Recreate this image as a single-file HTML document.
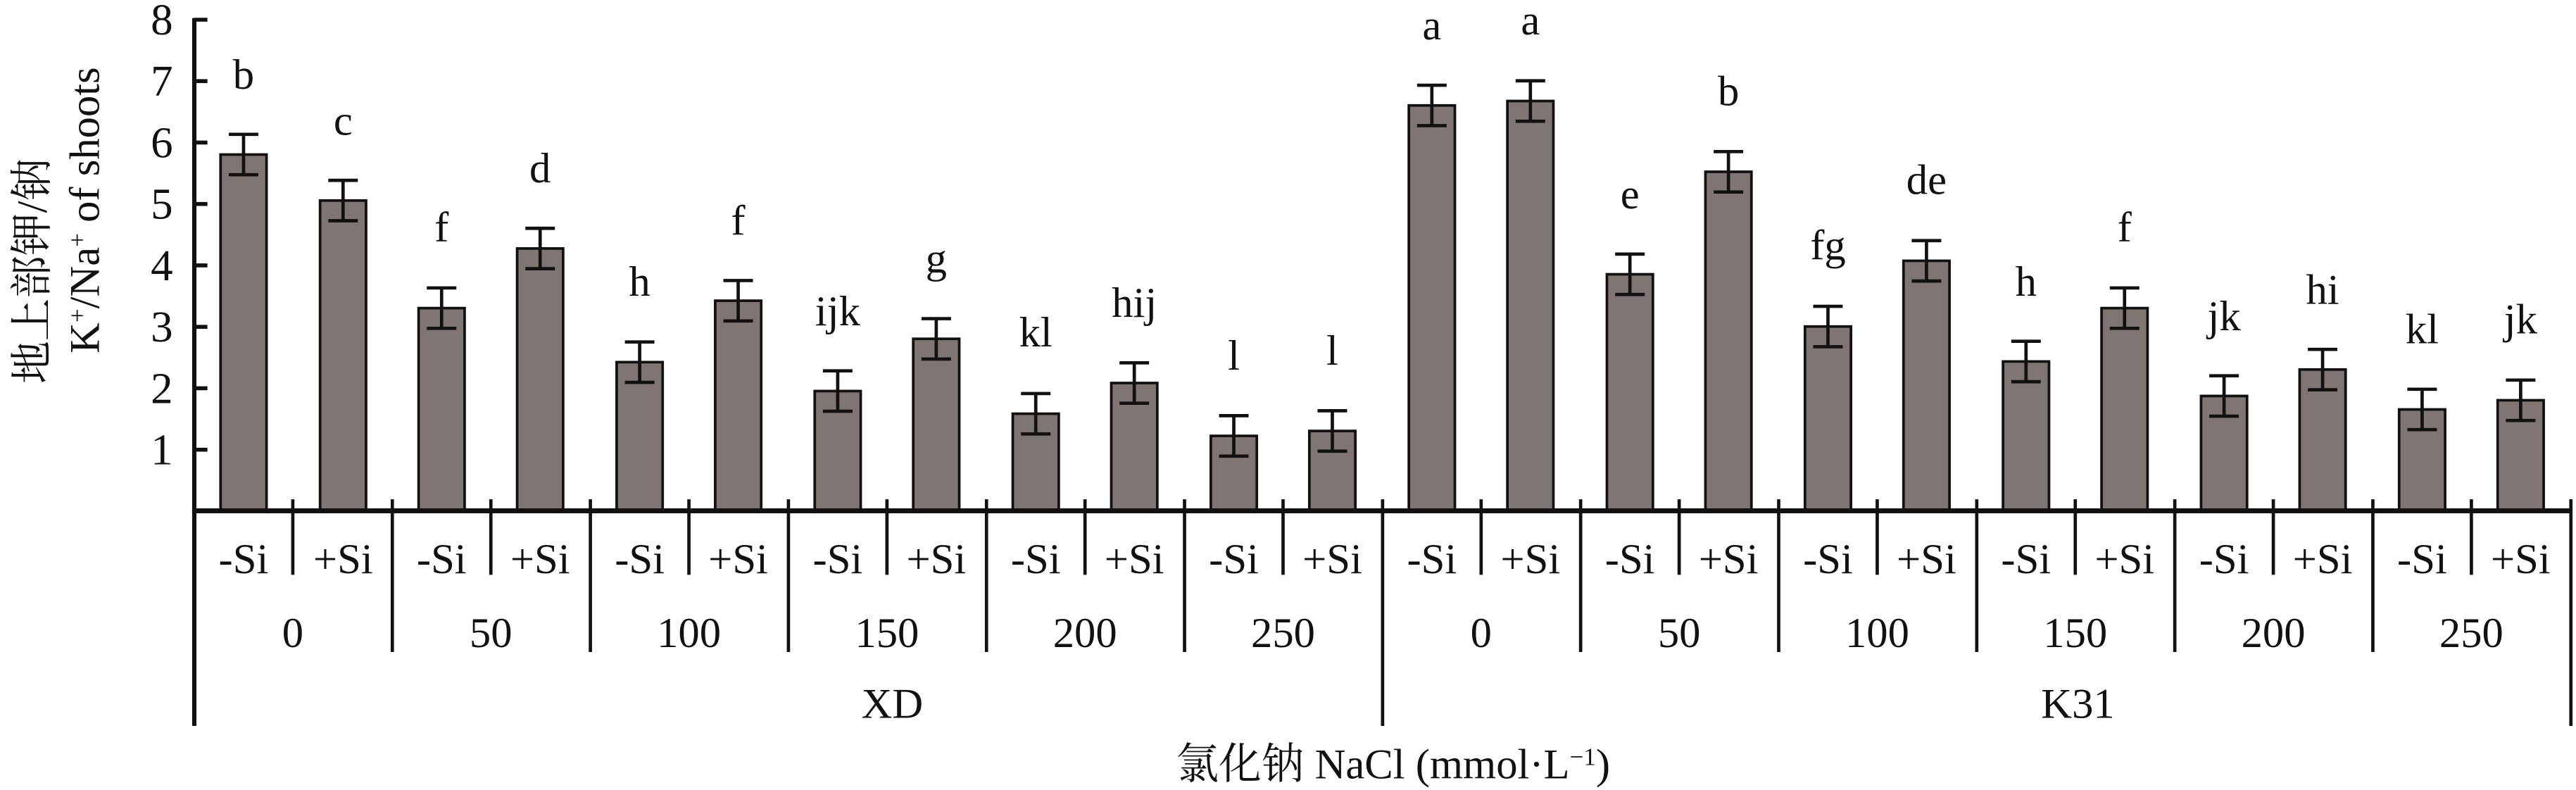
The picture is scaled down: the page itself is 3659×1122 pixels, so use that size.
<!DOCTYPE html>
<html><head><meta charset="utf-8"><style>
html,body{margin:0;padding:0;background:#fff;}
svg{display:block;}
text{font-family:"Liberation Serif","Noto Serif CJK SC",serif;fill:#111;}
</style></head><body>
<svg width="3659" height="1122" viewBox="0 0 1568 481" xmlns="http://www.w3.org/2000/svg">
<g fill="#7f7673" stroke="#111" stroke-width="1.6">
<rect x="134" y="94.1" width="28" height="216.9"/><rect x="194.6" y="122.1" width="28" height="188.9"/>
<rect x="254.6" y="187.6" width="28" height="123.4"/><rect x="314.6" y="151.3" width="28" height="159.7"/>
<rect x="375.2" y="220.5" width="28" height="90.5"/><rect x="435.2" y="183.1" width="28" height="127.9"/>
<rect x="495.8" y="238.1" width="28" height="72.9"/><rect x="555.8" y="206.3" width="28" height="104.7"/>
<rect x="616.4" y="251.9" width="28" height="59.1"/><rect x="676.4" y="233.2" width="28" height="77.8"/>
<rect x="737" y="265.4" width="28" height="45.6"/><rect x="797" y="262.4" width="28" height="48.6"/>
<rect x="857.6" y="64.2" width="28" height="246.8"/><rect x="917.6" y="61.5" width="28" height="249.5"/>
<rect x="978.2" y="167" width="28" height="144"/><rect x="1038.2" y="104.6" width="28" height="206.4"/>
<rect x="1098.8" y="198.8" width="28" height="112.2"/><rect x="1158.8" y="158.8" width="28" height="152.2"/>
<rect x="1219.4" y="220.1" width="28" height="90.9"/><rect x="1279.4" y="187.6" width="28" height="123.4"/>
<rect x="1340" y="241.1" width="28" height="69.9"/><rect x="1400" y="225" width="28" height="86"/>
<rect x="1460.6" y="249.3" width="28" height="61.7"/><rect x="1520.6" y="243.7" width="28" height="67.3"/>
</g>
<g stroke="#111" stroke-width="2" fill="none">
<path d="M148 81.8V106.4M139 81.8H157M139 106.4H157"/>
<path d="M208.6 109.8V134.4M199.6 109.8H217.6M199.6 134.4H217.6"/>
<path d="M268.6 175.3V199.9M259.6 175.3H277.6M259.6 199.9H277.6"/>
<path d="M328.6 139V163.6M319.6 139H337.6M319.6 163.6H337.6"/>
<path d="M389.2 208.2V232.8M380.2 208.2H398.2M380.2 232.8H398.2"/>
<path d="M449.2 170.8V195.4M440.2 170.8H458.2M440.2 195.4H458.2"/>
<path d="M509.8 225.8V250.4M500.8 225.8H518.8M500.8 250.4H518.8"/>
<path d="M569.8 194V218.6M560.8 194H578.8M560.8 218.6H578.8"/>
<path d="M630.4 239.6V264.2M621.4 239.6H639.4M621.4 264.2H639.4"/>
<path d="M690.4 220.9V245.5M681.4 220.9H699.4M681.4 245.5H699.4"/>
<path d="M751 253.1V277.7M742 253.1H760M742 277.7H760"/>
<path d="M811 250.1V274.7M802 250.1H820M802 274.7H820"/>
<path d="M871.6 51.9V76.5M862.6 51.9H880.6M862.6 76.5H880.6"/>
<path d="M931.6 49.2V73.8M922.6 49.2H940.6M922.6 73.8H940.6"/>
<path d="M992.2 154.7V179.3M983.2 154.7H1001.2M983.2 179.3H1001.2"/>
<path d="M1052.2 92.3V116.9M1043.2 92.3H1061.2M1043.2 116.9H1061.2"/>
<path d="M1112.8 186.5V211.1M1103.8 186.5H1121.8M1103.8 211.1H1121.8"/>
<path d="M1172.8 146.5V171.1M1163.8 146.5H1181.8M1163.8 171.1H1181.8"/>
<path d="M1233.4 207.8V232.4M1224.4 207.8H1242.4M1224.4 232.4H1242.4"/>
<path d="M1293.4 175.3V199.9M1284.4 175.3H1302.4M1284.4 199.9H1302.4"/>
<path d="M1354 228.8V253.4M1345 228.8H1363M1345 253.4H1363"/>
<path d="M1414 212.7V237.3M1405 212.7H1423M1405 237.3H1423"/>
<path d="M1474.6 237V261.6M1465.6 237H1483.6M1465.6 261.6H1483.6"/>
<path d="M1534.6 231.4V256M1525.6 231.4H1543.6M1525.6 256H1543.6"/>
</g>
<g stroke="#111" fill="none">
<path d="M118 11V442" stroke-width="2.6"/>
<path d="M116.7 311H1566" stroke-width="3"/>
<path d="M118 12H126M118 49.4H126M118 86.8H126M118 124.2H126M118 161.6H126M118 199H126M118 236.4H126M118 273.8H126" stroke-width="2.4"/>
<path d="M841.6 304V442M1565.2 304V442" stroke-width="2"/>
<path d="M238.6 304V397M359.2 304V397M479.8 304V397M600.4 304V397M721 304V397M962.2 304V397M1082.8 304V397M1203.4 304V397M1324 304V397M1444.6 304V397" stroke-width="2"/>
<path d="M178 304V350M298.6 304V350M419.2 304V350M539.8 304V350M660.4 304V350M781 304V350M901.6 304V350M1022.2 304V350M1142.8 304V350M1263.4 304V350M1384 304V350M1504.6 304V350" stroke-width="2"/>
</g>
<g font-size="27" text-anchor="end">
<text x="105" y="21">8</text><text x="105" y="58.4">7</text><text x="105" y="95.8">6</text><text x="105" y="133.2">5</text>
<text x="105" y="170.6">4</text><text x="105" y="208">3</text><text x="105" y="245.4">2</text><text x="105" y="282.8">1</text>
</g>
<g font-size="26" text-anchor="middle">
<text x="148" y="54">b</text><text x="208.6" y="82">c</text>
<text x="268.6" y="147">f</text><text x="328.6" y="111">d</text>
<text x="389.2" y="180">h</text><text x="449.2" y="143">f</text>
<text x="509.8" y="198">ijk</text><text x="569.8" y="166">g</text>
<text x="630.4" y="211">kl</text><text x="690.4" y="193">hij</text>
<text x="751" y="225">l</text><text x="811" y="222">l</text>
<text x="871.6" y="24">a</text><text x="931.6" y="21">a</text>
<text x="992.2" y="127">e</text><text x="1052.2" y="64">b</text>
<text x="1112.8" y="158">fg</text><text x="1172.8" y="118">de</text>
<text x="1233.4" y="180">h</text><text x="1293.4" y="147">f</text>
<text x="1354" y="201">jk</text><text x="1414" y="185">hi</text>
<text x="1474.6" y="209">kl</text><text x="1534.6" y="203">jk</text>
</g>
<g font-size="26" text-anchor="middle">
<text x="148" y="349">-Si</text><text x="208.6" y="349">+Si</text>
<text x="268.6" y="349">-Si</text><text x="328.6" y="349">+Si</text>
<text x="389.2" y="349">-Si</text><text x="449.2" y="349">+Si</text>
<text x="509.8" y="349">-Si</text><text x="569.8" y="349">+Si</text>
<text x="630.4" y="349">-Si</text><text x="690.4" y="349">+Si</text>
<text x="751" y="349">-Si</text><text x="811" y="349">+Si</text>
<text x="871.6" y="349">-Si</text><text x="931.6" y="349">+Si</text>
<text x="992.2" y="349">-Si</text><text x="1052.2" y="349">+Si</text>
<text x="1112.8" y="349">-Si</text><text x="1172.8" y="349">+Si</text>
<text x="1233.4" y="349">-Si</text><text x="1293.4" y="349">+Si</text>
<text x="1354" y="349">-Si</text><text x="1414" y="349">+Si</text>
<text x="1474.6" y="349">-Si</text><text x="1534.6" y="349">+Si</text>
<text x="178" y="394">0</text><text x="298.6" y="394">50</text><text x="419.2" y="394">100</text>
<text x="539.8" y="394">150</text><text x="660.4" y="394">200</text><text x="781" y="394">250</text>
<text x="901.6" y="394">0</text><text x="1022.2" y="394">50</text><text x="1142.8" y="394">100</text>
<text x="1263.4" y="394">150</text><text x="1384" y="394">200</text><text x="1504.6" y="394">250</text>
<text x="543" y="437">XD</text><text x="1265" y="437">K31</text>
<text x="848" y="474">氯化钠 NaCl (mmol·L<tspan baseline-shift="super" font-size="15">−1</tspan>)</text>
</g>
<g font-size="26" text-anchor="middle">
<text transform="translate(28,165) rotate(-90)">地上部钾/钠</text>
<text transform="translate(60,128) rotate(-90)">K<tspan baseline-shift="super" font-size="15">+</tspan>/Na<tspan baseline-shift="super" font-size="15">+</tspan> of shoots</text>
</g>
</svg>
</body></html>
